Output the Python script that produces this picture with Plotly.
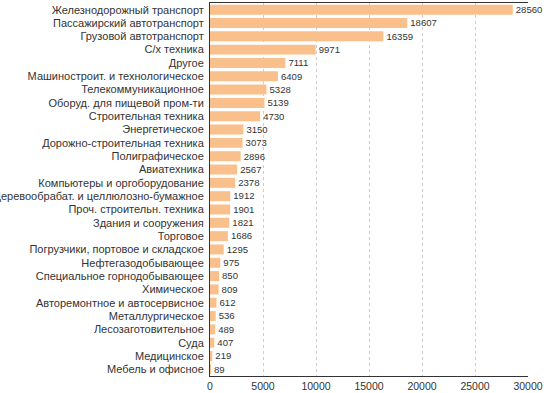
import plotly.graph_objects as go

categories = [
    "Железнодорожный транспорт",
    "Пассажирский автотранспорт",
    "Грузовой автотранспорт",
    "С/х техника",
    "Другое",
    "Машиностроит. и технологическое",
    "Телекоммуникационное",
    "Оборуд. для пищевой пром-ти",
    "Строительная техника",
    "Энергетическое",
    "Дорожно-строительная техника",
    "Полиграфическое",
    "Авиатехника",
    "Компьютеры и оргоборудование",
    "Деревообрабат. и целлюлозно-бумажное",
    "Проч. строительн. техника",
    "Здания и сооружения",
    "Торговое",
    "Погрузчики, портовое и складское",
    "Нефтегазодобывающее",
    "Специальное горнодобывающее",
    "Химическое",
    "Авторемонтное и автосервисное",
    "Металлургическое",
    "Лесозаготовительное",
    "Суда",
    "Медицинское",
    "Мебель и офисное",
]
values = [28560, 18607, 16359, 9971, 7111, 6409, 5328, 5139, 4730, 3150, 3073,
          2896, 2567, 2378, 1912, 1901, 1821, 1686, 1295, 975, 850, 809, 612,
          536, 489, 407, 219, 89]
x_ticks = [0, 5000, 10000, 15000, 20000, 25000, 30000]

fig = go.Figure(go.Bar(
    x=values,
    y=categories,
    orientation="h",
    marker=dict(color="#FAC08C", line=dict(width=0)),
    text=[str(v) for v in values],
    textposition="outside",
    textfont=dict(size=11.5, color="#333333"),
    cliponaxis=False,
))

fig.update_layout(
    width=560, height=393,
    margin=dict(l=210, r=32, t=3, b=17),
    plot_bgcolor="white", paper_bgcolor="white",
    font=dict(family="Liberation Sans, Arial, sans-serif", size=11, color="#333333"),
    bargap=0.25,
    showlegend=False,
)
fig.update_xaxes(
    range=[0, 30000], tickvals=x_ticks, ticktext=[str(t) for t in x_ticks],
    showgrid=True, gridcolor="#cccccc", griddash="dot", gridwidth=1,
    showline=True, linecolor="#333333", linewidth=1, mirror=True,
    zeroline=False, ticks="", tickfont=dict(size=10.5, color="#333333"),
    ticklabelstandoff=0, automargin=False,
)
fig.update_yaxes(
    autorange="reversed", showline=True, linecolor="#333333", linewidth=1,
    ticks="", tickfont=dict(size=11, color="#333333"), showgrid=False,
    ticklabelstandoff=3, automargin=False,
)

fig.write_html("out.html", config={"displayModeBar": False},
               post_script="document.body.style.margin='0';")
